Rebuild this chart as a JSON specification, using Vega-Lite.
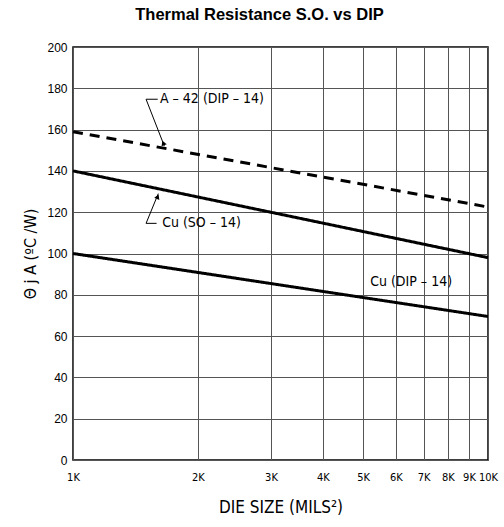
{
  "$schema": "https://vega.github.io/schema/vega-lite/v6.json",
  "width": 415,
  "height": 413,
  "autosize": {"type": "none"},
  "padding": {"left": 73, "top": 47, "right": 16, "bottom": 67},
  "background": "white",
  "title": {
    "text": "Thermal Resistance S.O. vs DIP",
    "font": "Liberation Sans",
    "fontSize": 16.5,
    "fontWeight": "bold",
    "color": "black",
    "anchor": "middle",
    "frame": "group",
    "dx": -21,
    "offset": 18
  },
  "config": {
    "view": {"stroke": "black", "strokeWidth": 1.5},
    "axis": {"gridColor": "#555", "gridOpacity": 1, "gridWidth": 1, "domain": false, "ticks": false, "labelColor": "black", "titleColor": "black"}
  },
  "datasets": {
    "curves": [
      {"series": "A-42 (DIP-14)", "die": 1000, "theta": 159},
      {"series": "A-42 (DIP-14)", "die": 10000, "theta": 122.5},
      {"series": "Cu (SO-14)", "die": 1000, "theta": 140},
      {"series": "Cu (SO-14)", "die": 10000, "theta": 98},
      {"series": "Cu (DIP-14)", "die": 1000, "theta": 100},
      {"series": "Cu (DIP-14)", "die": 10000, "theta": 69.5}
    ],
    "leaders": [
      {"x": 1500, "y": 174.7, "x2": 1600, "y2": 174.7},
      {"x": 1500, "y": 174.7, "x2": 1660, "y2": 152},
      {"x": 1500, "y": 114.6, "x2": 1590, "y2": 114.6},
      {"x": 1500, "y": 114.6, "x2": 1605, "y2": 129}
    ],
    "arrows": [
      {"x": 1650, "y": 153.5, "angle": 339},
      {"x": 1600, "y": 127.5, "angle": 23}
    ],
    "labels": [
      {"x": 1620, "y": 174.7, "label": "A – 42 (DIP – 14)"},
      {"x": 1640, "y": 114.6, "label": "Cu (SO – 14)"},
      {"x": 5200, "y": 86, "label": "Cu (DIP – 14)"}
    ]
  },
  "layer": [
    {
      "data": {"name": "curves"},
      "mark": {"type": "line", "strokeWidth": 3, "color": "black", "strokeCap": "butt"},
      "encoding": {
        "x": {
          "field": "die", "type": "quantitative",
          "scale": {"type": "log", "domain": [1000, 10000], "nice": false},
          "axis": {
            "values": [1000, 2000, 3000, 4000, 5000, 6000, 7000, 8000, 9000, 10000],
            "labelExpr": "(datum.value/1000) + 'K'",
            "labelFont": "DejaVu Sans Condensed",
            "labelFontSize": 11,
            "labelPadding": 11,
            "labelFlush": false,
            "labelOverlap": false,
            "title": "DIE SIZE (MILS²)",
            "titleFont": "DejaVu Sans Condensed",
            "titleFontSize": 17,
            "titleFontWeight": "normal",
            "titlePadding": 17,
            "grid": true
          }
        },
        "y": {
          "field": "theta", "type": "quantitative",
          "scale": {"domain": [0, 200], "nice": false},
          "axis": {
            "values": [0, 20, 40, 60, 80, 100, 120, 140, 160, 180, 200],
            "labelFont": "Liberation Sans",
            "labelFontSize": 12,
            "labelPadding": 6,
            "title": "Θ j A (ºC /W)",
            "titleFont": "DejaVu Sans Condensed",
            "titleFontSize": 16,
            "titleFontWeight": "normal",
            "titlePadding": 8,
            "grid": true
          }
        },
        "detail": {"field": "series"},
        "strokeDash": {
          "field": "series", "type": "nominal",
          "scale": {"domain": ["A-42 (DIP-14)", "Cu (SO-14)", "Cu (DIP-14)"], "range": [[10, 7], [1, 0], [1, 0]]},
          "legend": null
        }
      }
    },
    {
      "data": {"name": "leaders"},
      "mark": {"type": "rule", "color": "black", "strokeWidth": 1},
      "encoding": {
        "x": {"field": "x", "type": "quantitative"},
        "y": {"field": "y", "type": "quantitative"},
        "x2": {"field": "x2"},
        "y2": {"field": "y2"}
      }
    },
    {
      "data": {"name": "arrows"},
      "mark": {"type": "point", "shape": "triangle-up", "filled": true, "color": "black", "size": 30, "opacity": 1},
      "encoding": {
        "x": {"field": "x", "type": "quantitative"},
        "y": {"field": "y", "type": "quantitative"},
        "angle": {"field": "angle", "type": "quantitative", "scale": null}
      }
    },
    {
      "data": {"name": "labels"},
      "mark": {"type": "text", "align": "left", "baseline": "middle", "font": "DejaVu Sans Condensed", "fontSize": 14, "color": "black"},
      "encoding": {
        "x": {"field": "x", "type": "quantitative"},
        "y": {"field": "y", "type": "quantitative"},
        "text": {"field": "label"}
      }
    }
  ]
}
